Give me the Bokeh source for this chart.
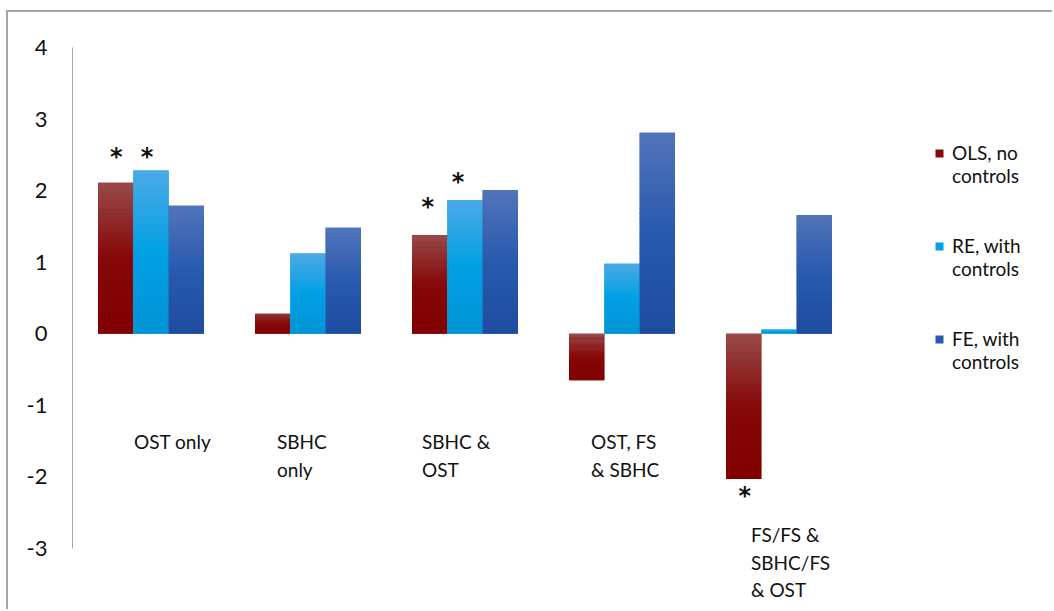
from bokeh.plotting import figure
from bokeh.models import Range1d, FixedTicker, Legend, LegendItem, ColumnDataSource
from bokeh.core.properties import value
from bokeh.embed import file_html
from bokeh.resources import INLINE

# ---------------- data ----------------
categories = ["OST only", "SBHC\nonly", "SBHC &\nOST", "OST, FS\n& SBHC", "FS/FS &\nSBHC/FS\n& OST"]
series_names = ["OLS, no\ncontrols", "RE, with\ncontrols", "FE, with\ncontrols"]
ols_values = [2.11, 0.28, 1.38, -0.65, -2.03]
re_values = [2.28, 1.12, 1.87, 0.98, 0.06]
fe_values = [1.79, 1.48, 2.01, 2.81, 1.66]
ols_significant = [True, False, True, False, True]
re_significant = [True, False, True, False, False]
fe_significant = [False, False, False, False, False]
y_ticks = [-3, -2, -1, 0, 1, 2, 3, 4]

# ---------------- style ----------------
FONT = "Lato"
PX_PER_UNIT = 71.57
BAR_W = 0.225
OFFSETS = [-BAR_W, 0.0, BAR_W]
GRADIENTS = [
    [(0.0, (152, 74, 74)), (0.5, (134, 8, 8)), (1.0, (128, 0, 0))],
    [(0.0, (76, 170, 230)), (0.5, (0, 160, 228)), (1.0, (0, 148, 214))],
    [(0.0, (82, 116, 186)), (0.5, (40, 90, 174)), (1.0, (30, 76, 160))],
]
MID = ["#860808", "#00a0e4", "#285aae"]
label_dx = [-17, -31, -43, -31, -28]          # px, left edge of each label block
label_y = [-1.35, -1.35, -1.35, -1.35, -2.65]  # top of each label block
star_gap = [[29, 0, 31.5, 0, -13], [17, 0, 21, 0, 0], [0, 0, 0, 0, 0]]   # px from bar end to star centre
star_dx = [[0.5, 0, -2, 0, 1], [-4, 0, -7, 0, 0], [0, 0, 0, 0, 0]]


def interp(stops, t):
    for (t0, c0), (t1, c1) in zip(stops[:-1], stops[1:]):
        if t <= t1:
            f = (t - t0) / (t1 - t0)
            r, g, b = (round(a + (bb - a) * f) for a, bb in zip(c0, c1))
            return "#%02x%02x%02x" % (r, g, b)
    return "#%02x%02x%02x" % stops[-1][1]


W, H = 1046, 599
p = figure(width=W, height=H, output_backend="svg", toolbar_location=None,
           x_range=Range1d(0, 982 / 157), y_range=Range1d(-3.8803, 4.3772),
           min_border_left=64, min_border_right=0, min_border_top=8, min_border_bottom=0)
p.styles = {"margin-left": "6px", "margin-top": "10px",
            "border-left": "2px solid #a6a6a6", "border-top": "2px solid #a6a6a6"}
p.xaxis.visible = False
p.xgrid.visible = False
p.ygrid.visible = False
p.outline_line_color = None
p.background_fill_color = "white"
p.border_fill_color = "white"

ya = p.yaxis[0]
ya.ticker = FixedTicker(ticks=y_ticks)
ya.major_label_overrides = {t: str(t) for t in y_ticks}
ya.bounds = (-3, 4)
ya.major_tick_line_color = None
ya.minor_tick_line_color = None
ya.major_tick_out = 0
ya.major_tick_in = 0
ya.axis_line_color = "#a6a6a6"
ya.axis_line_width = 1
ya.major_label_standoff = 25
ya.major_label_text_font = FONT
ya.major_label_text_font_size = "22px"
ya.major_label_text_color = "#111111"

all_values = [ols_values, re_values, fe_values]
all_sig = [ols_significant, re_significant, fe_significant]
N = 40
base_renderers = []
for s, vals in enumerate(all_values):
    xs = [i + 0.5 + OFFSETS[s] for i in range(len(categories))]
    tops = [max(v, 0) for v in vals]
    bots = [min(v, 0) for v in vals]
    r = p.vbar(x=xs, top=tops, bottom=bots, width=BAR_W, fill_color=MID[s], line_color=None)
    base_renderers.append(r)
    sx, st, sb, sc = [], [], [], []
    for x, t, b in zip(xs, tops, bots):
        h = t - b
        for k in range(N):
            sx.append(x)
            st.append(t - h * k / N)
            sb.append(max(b, t - h * (k + 1) / N - h * 0.004))
            sc.append(interp(GRADIENTS[s], (k + 0.5) / N))
    p.vbar(x="x", top="top", bottom="bottom", width=BAR_W, fill_color="c", line_color=None,
           source=ColumnDataSource(dict(x=sx, top=st, bottom=sb, c=sc)))
    # significance stars
    stx, sty, sdx = [], [], []
    for i, (v, sig) in enumerate(zip(vals, all_sig[s])):
        if sig:
            stx.append(xs[i])
            sty.append(v + star_gap[s][i] / PX_PER_UNIT)
            sdx.append(star_dx[s][i])
    if stx:
        p.text(x=stx, y=sty, text=["*"] * len(stx), x_offset=sdx, y_offset=3.5,
               text_font=value("DejaVu Sans"), text_font_style="bold", text_font_size="24px",
               text_align="center", text_baseline="alphabetic", text_color="#111111")

# category labels
p.text(x=[i + 0.5 for i in range(len(categories))], y=label_y, text=categories,
       x_offset=label_dx, text_font=value(FONT), text_font_size="19px",
       text_align="left", text_baseline="top", text_color="#111111", text_line_height=1.184)

legend = Legend(items=[LegendItem(label=" \n" + n, renderers=[r]) for n, r in zip(series_names, base_renderers)],
                location=(862, 238), glyph_width=10, glyph_height=10, label_standoff=8,
                label_text_font=FONT, label_text_font_size="19px", label_text_line_height=1.32,
                label_text_color="#111111", spacing=24, padding=0, margin=0,
                border_line_color=None, background_fill_alpha=0)
p.add_layout(legend, "center")

open("out.html", "w").write(file_html(p, INLINE))
